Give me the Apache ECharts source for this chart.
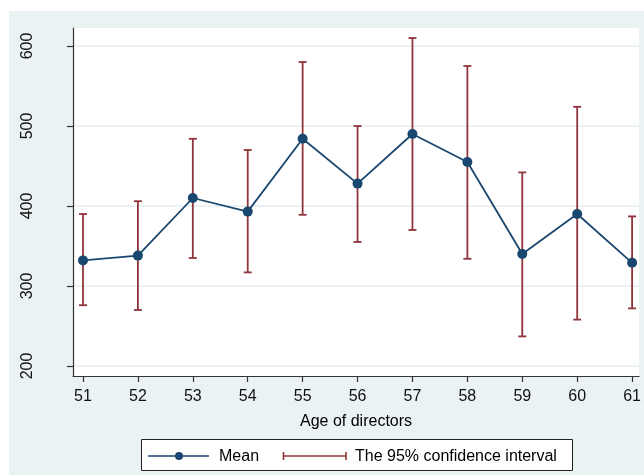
<!DOCTYPE html>
<html>
<head>
<meta charset="utf-8">
<script src="https://cdn.jsdelivr.net/npm/echarts@6/dist/echarts.min.js"></script>
<style>
html,body{margin:0;padding:0;background:#fff;}
#chart{width:644px;height:475px;}
</style>
</head>
<body>
<div id="chart"></div>
<script>
const ages = [51, 52, 53, 54, 55, 56, 57, 58, 59, 60, 61];
const meanValues = [332, 338, 410, 393, 484, 428, 490, 455, 340, 390, 329];
const upperCI = [390, 406, 484, 470, 580, 500, 610, 575, 442, 524, 387];
const lowerCI = [276, 270, 335, 317, 389, 355, 370, 334, 237, 258, 272];
const yTicks = [200, 300, 400, 500, 600];
const xTicks = [51, 52, 53, 54, 55, 56, 57, 58, 59, 60, 61];
const xTitle = 'Age of directors';
const legendMean = 'Mean';
const legendCI = 'The 95% confidence interval';

const NAVY = '#1a476f';
const RED = '#90353b';
const BG = '#eaf2f3';
const FONT = '"Liberation Sans", Arial, sans-serif';

const meanData = ages.map((a, i) => [a, meanValues[i]]);
const ciData = ages.map((a, i) => [a, lowerCI[i], upperCI[i]]);

const chart = echarts.init(document.getElementById('chart'), null, {renderer: 'canvas'});
chart.setOption({
  backgroundColor: BG,
  animation: false,
  grid: {
    left: 73, right: 4, top: 28, bottom: 99,
    show: true, backgroundColor: '#fff', borderWidth: 0
  },
  xAxis: {
    type: 'value', min: 50.818, max: 61.127,
    name: xTitle, nameLocation: 'middle', nameGap: 38,
    nameTextStyle: {fontFamily: FONT, fontSize: 16, color: '#000'},
    axisLine: {show: true, lineStyle: {color: '#333', width: 1.2}},
    axisTick: {show: true, length: 6, lineStyle: {color: '#333', width: 1.2}, customValues: xTicks},
    axisLabel: {customValues: xTicks, margin: 13, fontFamily: FONT, fontSize: 16, color: '#111'},
    splitLine: {show: false}
  },
  yAxis: {
    type: 'value', min: 187.5, max: 622.5,
    axisLine: {show: true, lineStyle: {color: '#333', width: 1.2}},
    axisTick: {show: true, length: 6, lineStyle: {color: '#333', width: 1.2}, customValues: yTicks},
    axisLabel: {customValues: yTicks, rotate: 90, margin: 37, fontFamily: FONT, fontSize: 16, color: '#111'},
    splitLine: {show: true, lineStyle: {color: '#e6eef1', width: 1.5}}
  },
  graphic: [
    {type: 'rect', silent: true, z: 100, shape: {x: 0, y: 0, width: 644, height: 11}, style: {fill: '#fff'}},
    {type: 'rect', silent: true, z: 100, shape: {x: 0, y: 0, width: 9, height: 475}, style: {fill: '#fff'}},
    {type: 'rect', z: 100, shape: {x: 141.5, y: 439.5, width: 431, height: 31}, style: {fill: '#fff', stroke: '#222', lineWidth: 1}},
    {type: 'line', z: 101, shape: {x1: 148, y1: 456, x2: 209, y2: 456}, style: {stroke: NAVY, lineWidth: 1.6}},
    {type: 'circle', z: 102, shape: {cx: 179, cy: 456, r: 4}, style: {fill: NAVY}},
    {type: 'text', z: 101, style: {text: legendMean, x: 219, y: 457, verticalAlign: 'middle', font: '16px ' + FONT, fill: '#000'}},
    {type: 'line', z: 101, shape: {x1: 283.5, y1: 456, x2: 346, y2: 456}, style: {stroke: RED, lineWidth: 1.6}},
    {type: 'line', z: 101, shape: {x1: 283.5, y1: 452, x2: 283.5, y2: 460}, style: {stroke: RED, lineWidth: 1.6}},
    {type: 'line', z: 101, shape: {x1: 346, y1: 452, x2: 346, y2: 460}, style: {stroke: RED, lineWidth: 1.6}},
    {type: 'text', z: 101, style: {text: legendCI, x: 355, y: 457, verticalAlign: 'middle', font: '16px ' + FONT, fill: '#000'}}
  ],
  series: [
    {
      type: 'custom',
      name: legendCI,
      z: 2,
      data: ciData,
      encode: {x: 0, y: [1, 2]},
      renderItem: function (params, api) {
        const x = api.value(0);
        const lo = api.coord([x, api.value(1)]);
        const hi = api.coord([x, api.value(2)]);
        const w = 4;
        const st = {stroke: RED, lineWidth: 1.8};
        return {
          type: 'group',
          children: [
            {type: 'line', shape: {x1: lo[0], y1: lo[1], x2: hi[0], y2: hi[1]}, style: st},
            {type: 'line', shape: {x1: hi[0] - w, y1: hi[1], x2: hi[0] + w, y2: hi[1]}, style: st},
            {type: 'line', shape: {x1: lo[0] - w, y1: lo[1], x2: lo[0] + w, y2: lo[1]}, style: st}
          ]
        };
      }
    },
    {
      type: 'line',
      name: legendMean,
      z: 3,
      data: meanData,
      symbol: 'circle',
      symbolSize: 10,
      itemStyle: {color: NAVY},
      lineStyle: {color: NAVY, width: 1.8}
    }
  ]
});
</script>
</body>
</html>
